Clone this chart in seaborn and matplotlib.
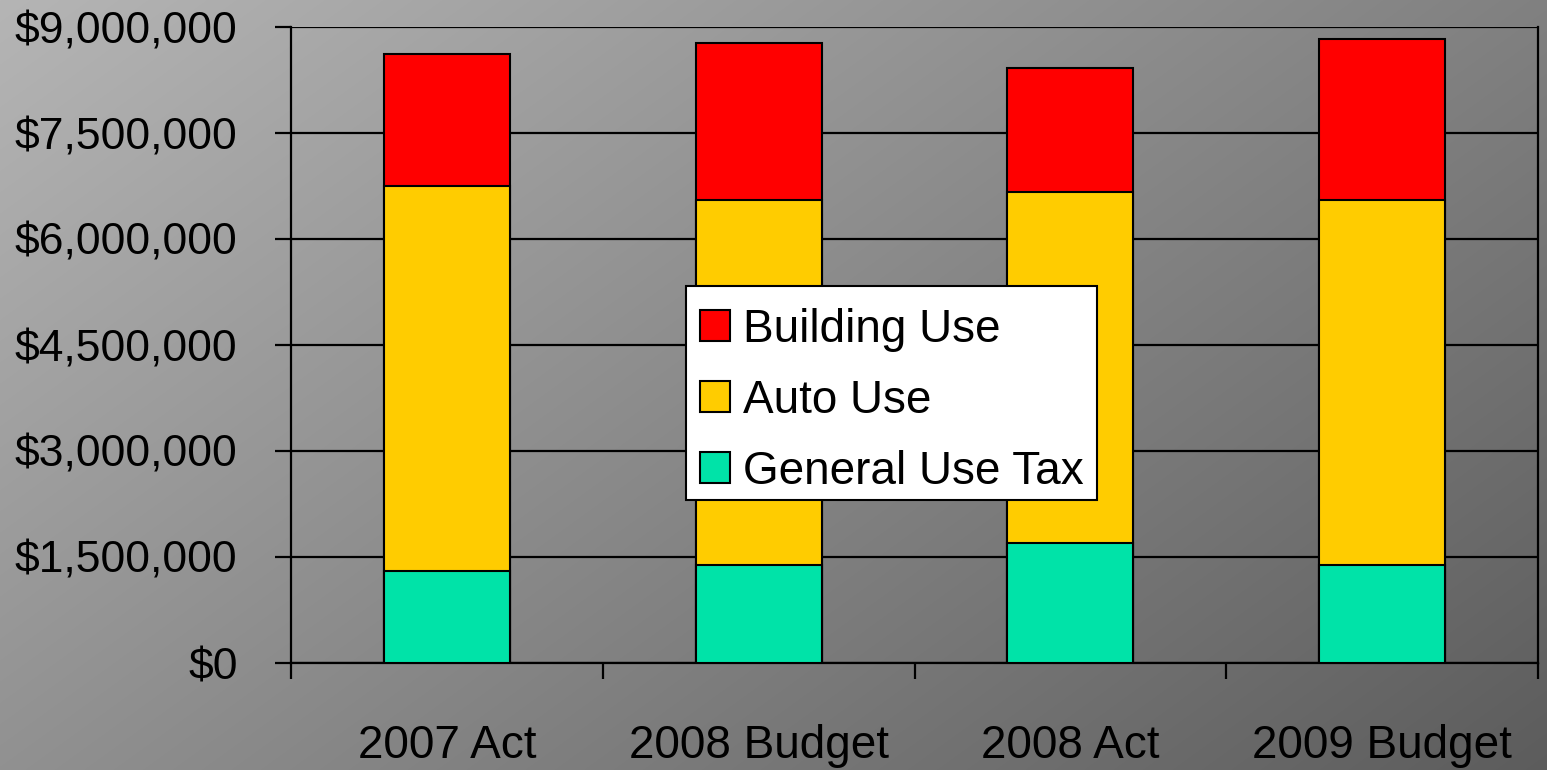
import numpy as np
import pandas as pd
import matplotlib
matplotlib.use("Agg")
import matplotlib.pyplot as plt
import seaborn as sns
from matplotlib.patches import Patch
from matplotlib.ticker import FuncFormatter, FixedLocator
from matplotlib.transforms import Affine2D

categories = ["2007 Act", "2008 Budget", "2008 Act", "2009 Budget"]
general_use_tax = [1300000, 1385000, 1700000, 1385000]
auto_use = [5450000, 5165000, 4965000, 5165000]
building_use = [1870000, 2220000, 1755000, 2275000]
y_ticks = [0, 1500000, 3000000, 4500000, 6000000, 7500000, 9000000]

sns.set_theme(style="white")
plt.rcParams['font.family'] = ['Liberation Sans', 'DejaVu Sans']

df = pd.DataFrame({
    "category": categories,
    "general": general_use_tax,
    "auto": auto_use,
    "building": building_use,
})
df["auto_cum"] = df["general"] + df["auto"]
df["building_cum"] = df["auto_cum"] + df["building"]

W, H = 1547, 770
fig = plt.figure(figsize=(W / 100, H / 100), dpi=100)

# gradient background
bg = fig.add_axes([0, 0, 1, 1], zorder=-10)
xx, yy = np.meshgrid(np.arange(W), np.arange(H))
v = (181 - xx * 0.034 - yy * 0.047) / 255.0
v = np.clip(v, 0, 1)
bg.imshow(np.dstack([v, v, v]), aspect="auto", extent=[0, 1, 0, 1], origin="upper")
bg.axis("off")

ax = fig.add_axes([291 / W, 1 - 663 / H, (1538 - 291) / W, (663 - 27) / H])
ax.set_facecolor("none")

colors = {"building": "#FF0000", "auto": "#FFCC00", "general": "#00E3A8"}
bw = 0.404
for col, c in [("building_cum", colors["building"]), ("auto_cum", colors["auto"]), ("general", colors["general"])]:
    sns.barplot(data=df, x="category", y=col, color=c, saturation=1, width=bw,
                edgecolor="black", linewidth=1.5, ax=ax, zorder=3)

ax.set_ylim(0, 9000000)
ax.set_xlim(-0.5, 3.5)
ax.yaxis.set_major_locator(FixedLocator(y_ticks))
ax.yaxis.set_major_formatter(FuncFormatter(lambda val, p: "${:,.0f}".format(val)))
ax.yaxis.grid(True, color="black", linewidth=1.6, zorder=1)
ax.set_axisbelow(True)
ax.set_xlabel("")
ax.set_ylabel("")

for s in ["left", "right", "bottom"]:
    ax.spines[s].set_visible(True)
    ax.spines[s].set_color("black")
    ax.spines[s].set_linewidth(1.6)
ax.spines["top"].set_visible(False)

ax.tick_params(axis="y", which="major", length=11.5, width=1.6, color="black",
               labelsize=32, labelcolor="black", pad=27, left=True)
ax.set_xticks(range(len(categories)))
ax.set_xticklabels(categories)
ax.set_xticks([-0.5, 0.5, 1.5, 2.5, 3.5], minor=True)
ax.tick_params(axis="x", which="major", length=0, labelsize=33, labelcolor="black", pad=44)
ax.tick_params(axis="x", which="minor", length=11.5, width=1.6, color="black", bottom=True, direction="out")

handles = [Patch(facecolor=colors["building"], edgecolor="black", linewidth=1.5, label="Building Use"),
           Patch(facecolor=colors["auto"], edgecolor="black", linewidth=1.5, label="Auto Use"),
           Patch(facecolor=colors["general"], edgecolor="black", linewidth=1.5, label="General Use Tax")]
leg = fig.legend(handles=handles, loc="upper left", bbox_to_anchor=(686 / W, 1 - 286 / H),
                 fontsize=33, frameon=True, fancybox=False, framealpha=1,
                 edgecolor="black", facecolor="white", handlelength=0.66, handleheight=0.66,
                 handletextpad=0.28, labelspacing=0.59, borderpad=0.3, borderaxespad=0)
leg.get_frame().set_linewidth(1.5)
shift = Affine2D().translate(0, -8)
for t in leg.get_texts():
    t.set_color("black")
    t.set_transform(t.get_transform() + shift)
for hnd in leg.legend_handles:
    hnd.set_transform(hnd.get_data_transform() + shift)

fig.savefig("out.png", dpi=100)
